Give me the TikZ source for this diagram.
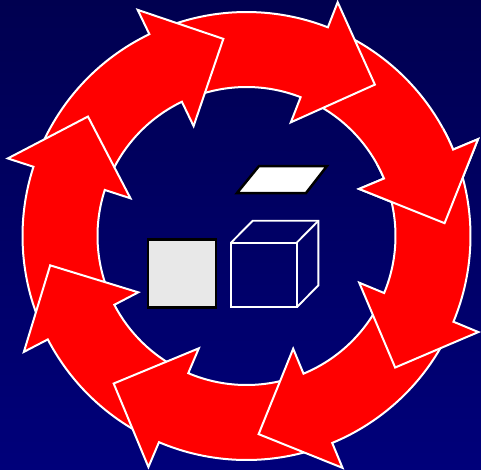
\documentclass[tikz,border=0pt]{standalone}
\usepackage{tikz}

\begin{document}
\begin{tikzpicture}[x=1pt, y=1pt, line join=miter,
    ringarrow/.style={fill=red, draw=white, line width=2pt},
    wire/.style={draw=white, line width=1.9pt}]
  \def\rin{149}
  \def\rout{224}
  \def\rbarbin{122}
  \def\rbarbout{251}
  \def\rtip{198.5}

  \newcommand{\cyclearrow}[2]{% #1=angle of the head base, #2=head base of the arrow behind
    \path[ringarrow] (#2-3:\rout) arc[start angle=#2-3, end angle=#1, radius=\rout]
      -- (#1:\rbarbout) -- (#1-19:\rtip) -- (#1:\rbarbin) -- (#1:\rin)
      arc[start angle=#1, end angle=#2-3, radius=\rin] -- cycle;
  }

  \useasboundingbox (-246.5,-233) rectangle (234.5,236);
  \shade[top color={rgb,255:red,0;green,0;blue,80}, bottom color={rgb,255:red,0;green,0;blue,122}]
    (-246.5,-233) rectangle (234.5,236);

  \foreach \b/\p in {22.7/68.7, 68.7/115.7, 115.7/162, 162/207.5,
                     -152.5/-113, -113/-67.5, -67.5/-22.5, -22.5/22.7}
    {\cyclearrow{\b}{\p}}

  % first arrow again, over the tail of the last one
  \begin{scope}
    \clip (0,0) -- (-1.3:300) arc[start angle=-1.3, end angle=28.7, radius=300] -- cycle;
    \cyclearrow{22.7}{68.7}
  \end{scope}

  \draw[fill=black!9, draw=black, line width=2.7pt] (-98.5,-71.7) rectangle (-30.5,-3.7);

  \draw[fill=white, draw=black, line width=2.5pt]
    (-9.5,43) -- (12.5,70) -- (80.5,70) -- (59.5,43) -- cycle;

  % cube
  \draw[wire] (-15.5,-71.3) rectangle (50.2,-6.7);
  \draw[wire] (-15.5,-6.7) -- ++(21.7,22) -- ++(65.7,0) -- ++(0,-64.6) -- (50.2,-71.3);
  \draw[wire] (50.2,-6.7) -- ++(21.7,22);
\end{tikzpicture}
\end{document}
